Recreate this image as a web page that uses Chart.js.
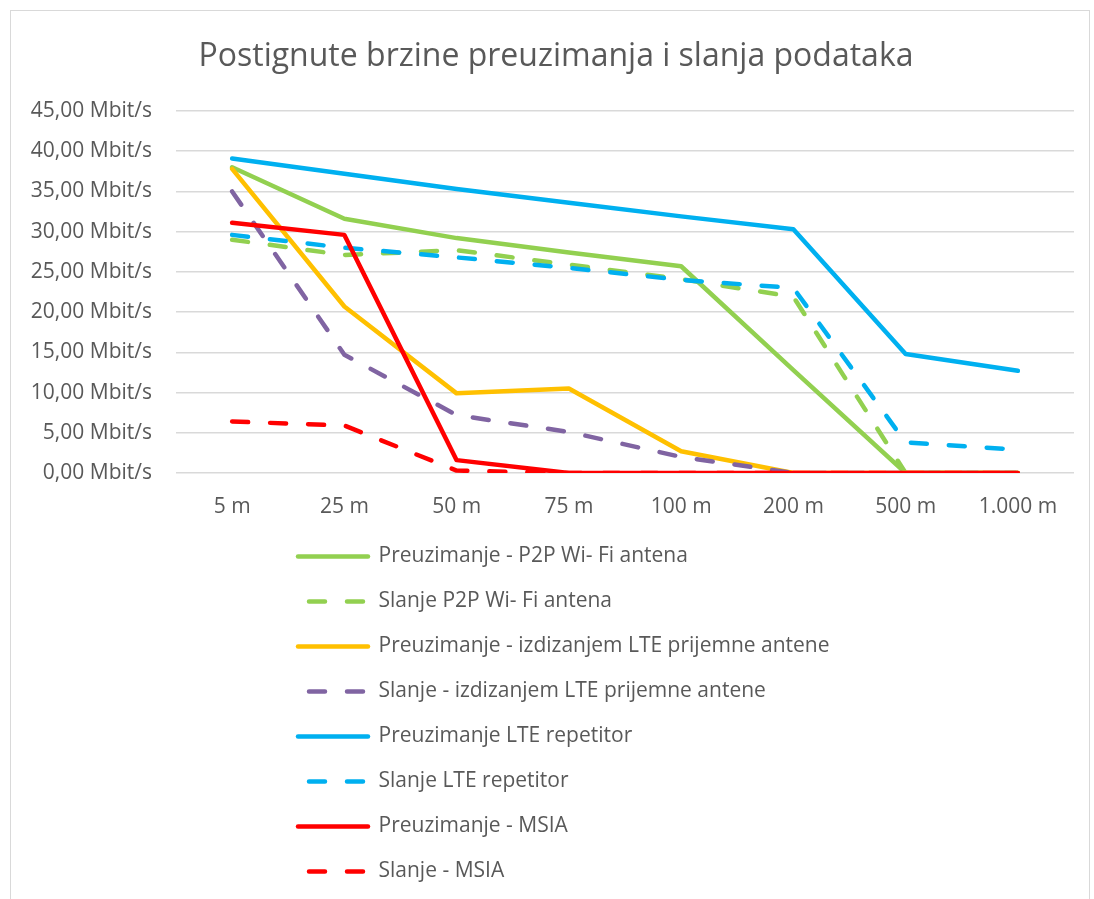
<!DOCTYPE html>
<html>
<head>
<meta charset="utf-8">
<script src="https://cdn.jsdelivr.net/npm/chart.js@4.4.0/dist/chart.umd.min.js"></script>
<style>
    html, body { margin: 0; padding: 0; background: #fff; }
    #frame {
        position: absolute; left: 10px; top: 10px; width: 1080px; height: 900px;
        border: 1px solid #d9d9d9; box-sizing: border-box;
    }
    #wrap { position: absolute; left: 0; top: 0; width: 1094px; height: 899px; }
</style>
</head>
<body>
<div id="frame"></div>
<div id="wrap"><canvas id="speedChart"></canvas></div>
<script>
// Distances (x categories)
const distances = ['5 m', '25 m', '50 m', '75 m', '100 m', '200 m', '500 m', '1.000 m'];

// Series values, Mbit/s
const p2pDownload = [38.0, 31.6, 29.2, 27.4, 25.7, 12.8, 0, 0];
const p2pUpload = [29.0, 27.1, 27.7, 25.9, 24.1, 21.9, 0, 0];
const lteAntennaDownload = [37.8, 20.7, 9.9, 10.5, 2.7, 0, 0, 0];
const lteAntennaUpload = [35.0, 14.7, 7.2, 5.1, 2.0, 0, 0, 0];
const repeaterDownload = [39.1, 37.2, 35.3, 33.6, 31.9, 30.3, 14.8, 12.7];
const repeaterUpload = [29.6, 28.0, 26.8, 25.5, 24.0, 23.0, 3.8, 2.9];
const msiaDownload = [31.1, 29.6, 1.6, 0, 0, 0, 0, 0];
const msiaUpload = [6.4, 5.9, 0.3, 0, 0, 0, 0, 0];

// Series names
const seriesNames = [
    'Preuzimanje - P2P Wi- Fi antena',
    'Slanje P2P Wi- Fi antena',
    'Preuzimanje - izdizanjem LTE prijemne antene',
    'Slanje - izdizanjem LTE prijemne antene',
    'Preuzimanje LTE repetitor',
    'Slanje LTE repetitor',
    'Preuzimanje - MSIA',
    'Slanje - MSIA'
];

const textColor = '#595959';
const fontFamily = '"Open Sans", "Noto Sans", sans-serif';
const dash = [16, 22];

function makeSeries(i, values, color, dashed) {
    return {
        label: seriesNames[i],
        data: values,
        borderColor: color,
        backgroundColor: color,
        borderWidth: 4.5,
        borderDash: dashed ? dash : [],
        borderCapStyle: 'round',
        borderJoinStyle: 'round',
        pointRadius: 0,
        tension: 0,
        order: 8 - i   // later series drawn on top, like Excel
    };
}

// Legend: one item per row, under the plot
const legendLeft = 274;

const columnLegend = {
    id: 'columnLegend',
    beforeLayout(chart) {
        const lg = chart.legend;
        if (lg && !lg._narrow) {
            // fit rows as if the legend were narrow -> one item per row
            const update = lg.update.bind(lg);
            lg.update = (w, h, m) => update(100, h, m);
            // same trick while drawing, but keep the clip area wide
            const draw = lg._draw.bind(lg);
            lg._draw = () => {
                const r = lg.right;
                lg.right = lg.left + 100;
                draw();
                lg.right = r;
            };
            lg._narrow = true;
        }
    },
    afterLayout(chart) {
        const lg = chart.legend;
        lg.left = legendLeft;
        lg.width = lg.right - lg.left;
        // title centred a little right of the canvas middle
        const tb = chart.titleBlock;
        if (tb) {
            tb.left = 38;
            tb.width = tb.right - tb.left;
        }
    }
};

// point-style legend items lose the dataset dash, put it back
function legendLabels(chart) {
    const items = Chart.defaults.plugins.legend.labels.generateLabels(chart);
    items.forEach(item => {
        const ds = chart.data.datasets[item.datasetIndex];
        item.lineDash = ds.borderDash;
        item.lineDashOffset = ds.borderDash.length ? 27 : 0;
        item.lineCap = 'round';
        item.strokeStyle = ds.borderColor;
        item.lineWidth = ds.borderWidth;
    });
    return items;
}

const ctx = document.getElementById('speedChart').getContext('2d');

new Chart(ctx, {
    type: 'line',
    data: {
        labels: distances,
        datasets: [
            makeSeries(0, p2pDownload, '#92D050', false),
            makeSeries(1, p2pUpload, '#92D050', true),
            makeSeries(2, lteAntennaDownload, '#FFC000', false),
            makeSeries(3, lteAntennaUpload, '#8064A2', true),
            makeSeries(4, repeaterDownload, '#00B0F0', false),
            makeSeries(5, repeaterUpload, '#00B0F0', true),
            makeSeries(6, msiaDownload, '#FF0000', false),
            makeSeries(7, msiaUpload, '#FF0000', true)
        ]
    },
    options: {
        responsive: true,
        maintainAspectRatio: false,
        animation: false,
        layout: { padding: { top: 0, left: 0, right: 20, bottom: 7 } },
        plugins: {
            title: {
                display: true,
                text: 'Postignute brzine preuzimanja i slanja podataka',
                color: textColor,
                font: { family: fontFamily, size: 32, weight: 'normal', lineHeight: 1.2 },
                padding: { top: 38, bottom: 34.6 }
            },
            legend: {
                position: 'bottom',
                align: 'start',
                labels: {
                    usePointStyle: true,
                    pointStyle: 'line',
                    pointStyleWidth: 70,
                    padding: 24,
                    color: textColor,
                    font: { family: fontFamily, size: 21 },
                    generateLabels: legendLabels,
                    sort: (a, b) => a.datasetIndex - b.datasetIndex
                }
            },
            tooltip: { enabled: false }
        },
        scales: {
            x: {
                offset: true,
                grid: { display: false, drawTicks: false },
                border: { display: false },
                ticks: {
                    color: textColor,
                    font: { family: fontFamily, size: 21 },
                    padding: 21,
                    maxRotation: 0,
                    autoSkip: false
                },
                afterFit: (scale) => { scale.height = 49; }
            },
            y: {
                min: 0,
                max: 45,
                grid: { color: '#d9d9d9', lineWidth: 1.5, drawTicks: false },
                border: { display: false },
                ticks: {
                    stepSize: 5,
                    color: textColor,
                    font: { family: fontFamily, size: 21 },
                    padding: 24,
                    callback: (v) => v.toFixed(2).replace('.', ',') + ' Mbit/s'
                },
                afterFit: (scale) => { scale.width = 176; }
            }
        }
    },
    plugins: [columnLegend]
});
</script>
</body>
</html>
